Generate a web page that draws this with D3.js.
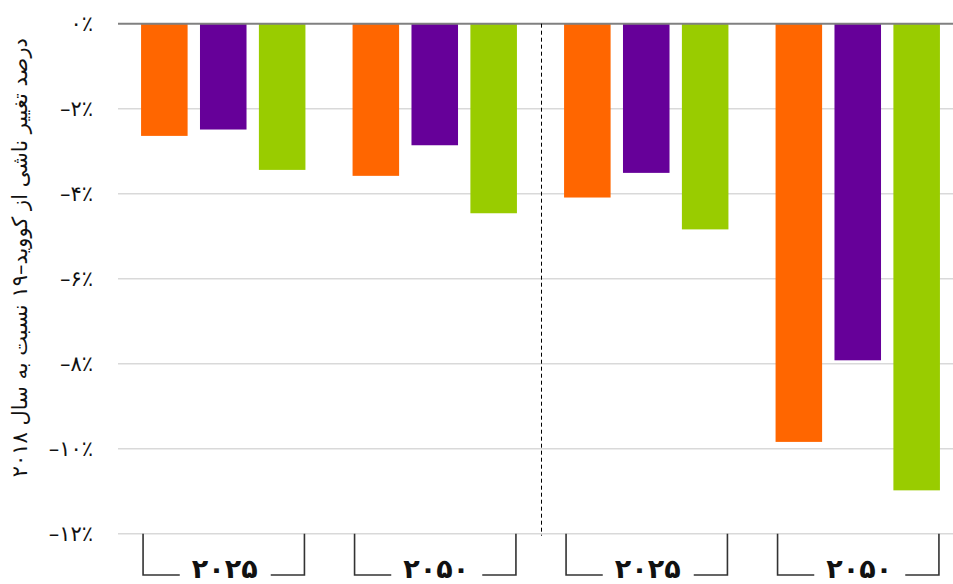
<!DOCTYPE html>
<html>
<head>
<meta charset="utf-8">
<script src="https://cdn.jsdelivr.net/npm/d3@7/dist/d3.min.js"></script>
<style>
  html, body { margin: 0; padding: 0; background: #fff; }
  svg { display: block; }
</style>
</head>
<body>
<svg id="chart" width="953" height="584"></svg>
<script>
// Groups along the x axis (two scenarios, each split into 2025 and 2050)
const groups = ["A-2025", "A-2050", "B-2025", "B-2050"];
const groupLabels = ["۲۰۲۵", "۲۰۵۰", "۲۰۲۵", "۲۰۵۰"];
const seriesNames = ["s1", "s2", "s3"];
const seriesColors = ["#ff6600", "#660099", "#99cc00"];

// Percent change values per series, one entry per group
const s1Values = [-2.64, -3.58, -4.09, -9.84];
const s2Values = [-2.49, -2.86, -3.51, -7.92];
const s3Values = [-3.44, -4.46, -4.84, -10.98];
const seriesValues = [s1Values, s2Values, s3Values];

const yTicks = [0, -2, -4, -6, -8, -10, -12];
const yTickLabels = ["۰٪", "–۲٪", "–۴٪", "–۶٪", "–۸٪", "–۱۰٪", "–۱۲٪"];
const yTitle = "درصد تغییر ناشی از کووید–۱۹ نسبت به سال ۲۰۱۸";

const svg = d3.select("#chart");
const plotLeft = 117.5, groupStep = 211.5;
const plotTop = 23.7, plotBottom = 533.7;

const x0 = d3.scaleBand().domain(groups)
  .range([plotLeft, plotLeft + groupStep * groups.length]).padding(0);
const x1 = d3.scaleBand().domain(seriesNames)
  .range([0, x0.bandwidth()]).paddingInner(0.21).paddingOuter(0.4);
const y = d3.scaleLinear().domain([-12, 0]).range([plotBottom, plotTop]);

// Gridlines
svg.append("g").selectAll("line")
  .data(yTicks.filter(d => d !== 0))
  .join("line")
  .attr("x1", 118).attr("x2", 953)
  .attr("y1", d => y(d)).attr("y2", d => y(d))
  .attr("stroke", "#d9d9d9").attr("stroke-width", 1.6);

// Y axis tick labels
const yAxis = d3.axisLeft(y).tickValues(yTicks)
  .tickFormat((d, i) => yTickLabels[i]).tickSize(0).tickPadding(0);
const ya = svg.append("g").attr("transform", "translate(93,0)").call(yAxis);
ya.select(".domain").remove();
ya.selectAll("text")
  .attr("font-family", "DejaVu Sans, sans-serif")
  .attr("font-size", 21)
  .attr("fill", "#111")
  .attr("direction", "ltr")
  .attr("dy", "0.3em");

// Bars
const rows = groups.map((g, gi) => ({ g, vals: seriesValues.map((s, si) => ({ name: seriesNames[si], v: s[gi], c: seriesColors[si] })) }));
svg.append("g").selectAll("g")
  .data(rows)
  .join("g")
  .attr("transform", d => `translate(${x0(d.g)},0)`)
  .selectAll("rect")
  .data(d => d.vals)
  .join("rect")
  .attr("x", d => x1(d.name))
  .attr("width", x1.bandwidth())
  .attr("y", y(0))
  .attr("height", d => y(d.v) - y(0))
  .attr("fill", d => d.c);

// Zero line
svg.append("line")
  .attr("x1", 118).attr("x2", 953)
  .attr("y1", y(0)).attr("y2", y(0))
  .attr("stroke", "#808080").attr("stroke-width", 2);

// Dashed separator between the two scenarios
const sepX = Math.round(x0(groups[2])) + 0.5;
svg.append("line")
  .attr("x1", sepX).attr("x2", sepX)
  .attr("y1", y(0)).attr("y2", plotBottom + 2)
  .attr("stroke", "#000").attr("stroke-width", 1)
  .attr("stroke-dasharray", "4,3");

// Bracketed group labels under the axis
const bracketY = 575;
groups.forEach((g, i) => {
  const xl = x0(g) + x1("s1") + 2;
  const xr = x0(g) + x1("s3") + x1.bandwidth() - 1;
  const cx = (xl + xr) / 2;
  const b = svg.append("g");
  b.append("path")
    .attr("d", `M${xl},${plotBottom}V${bracketY}H${cx - 44}`)
    .attr("fill", "none").attr("stroke", "#333").attr("stroke-width", 1.6);
  b.append("path")
    .attr("d", `M${cx + 47},${bracketY}H${xr}V${plotBottom}`)
    .attr("fill", "none").attr("stroke", "#333").attr("stroke-width", 1.6);
  b.append("text")
    .attr("x", cx + 1).attr("y", 578)
    .attr("text-anchor", "middle")
    .attr("font-family", "DejaVu Sans, sans-serif")
    .attr("font-weight", "bold")
    .attr("font-size", 27)
    .attr("fill", "#111")
    .text(groupLabels[i]);
});

// Y axis title
svg.append("text")
  .attr("transform", `translate(27,${(plotTop + plotBottom) / 2 - 21}) rotate(-90)`)
  .attr("text-anchor", "middle")
  .attr("font-family", "DejaVu Sans, sans-serif")
  .attr("font-size", 21)
  .attr("fill", "#111")
  .attr("direction", "rtl")
  .text(yTitle);
</script>
</body>
</html>
